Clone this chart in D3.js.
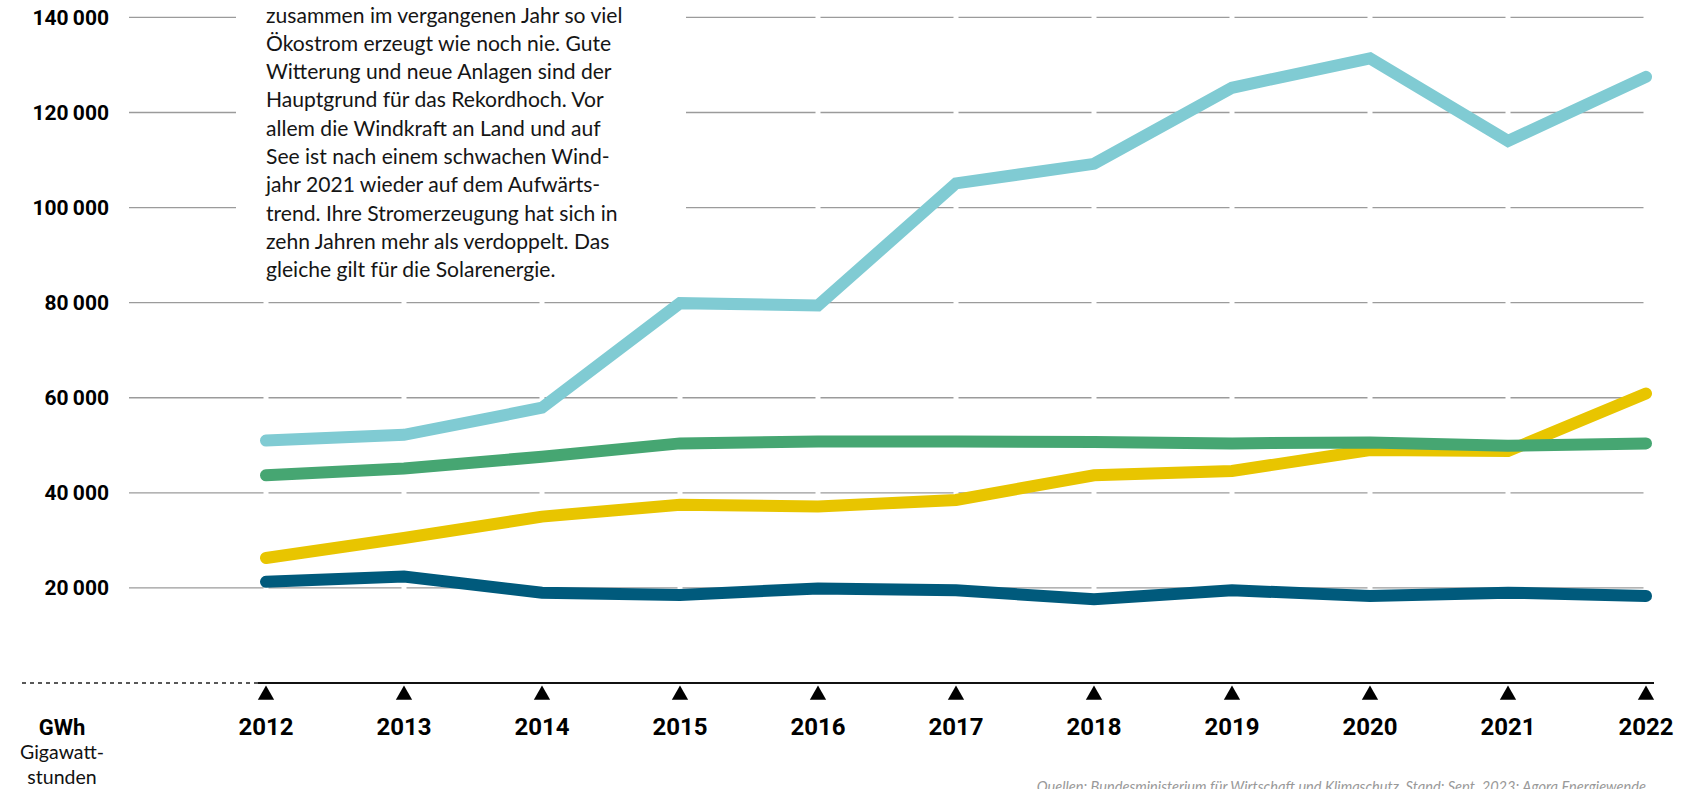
<!DOCTYPE html>
<html>
<head>
<meta charset="utf-8">
<script src="https://cdn.jsdelivr.net/npm/d3@7"></script>
<style>
  html, body { margin: 0; padding: 0; background: #fff; overflow: hidden; }
  svg { display: block; }
</style>
</head>
<body>
<div id="chart"></div>
<script>
var years = [2012, 2013, 2014, 2015, 2016, 2017, 2018, 2019, 2020, 2021, 2022];
var wind    = [51000, 52200, 57900, 79900, 79400, 105100, 109200, 125200, 131400, 114000, 127500];
var biomass = [43700, 45100, 47600, 50400, 50800, 50800, 50700, 50400, 50600, 49900, 50400];
var solar   = [26300, 30500, 35000, 37500, 37100, 38500, 43700, 44600, 49000, 48800, 60900];
var water   = [21300, 22400, 19000, 18500, 19900, 19500, 17600, 19500, 18300, 19000, 18300];
var yTicks = [20000, 40000, 60000, 80000, 100000, 120000, 140000];

var textLines = [
  "Wind, Sonne, Biomasse und Wasserkraft haben",
  "zusammen im vergangenen Jahr so viel",
  "Ökostrom erzeugt wie noch nie. Gute",
  "Witterung und neue Anlagen sind der",
  "Hauptgrund für das Rekordhoch. Vor",
  "allem die Windkraft an Land und auf",
  "See ist nach einem schwachen Wind-",
  "jahr 2021 wieder auf dem Aufwärts-",
  "trend. Ihre Stromerzeugung hat sich in",
  "zehn Jahren mehr als verdoppelt. Das",
  "gleiche gilt für die Solarenergie."
];
var source = "Quellen: Bundesministerium für Wirtschaft und Klimaschutz, Stand: Sept. 2023; Agora Energiewende";

var width = 1707, height = 789;

var svg = d3.select("#chart").append("svg")
  .attr("width", width)
  .attr("height", height);

var x = d3.scalePoint().domain(years).range([266, 1646]);
var y = d3.scaleLinear().domain([0, 140000]).range([683, 17.4]);

var fmt = d3.formatLocale({decimal: ",", thousands: "\u2009", grouping: [3], currency: ["", ""]}).format(",d");

// gridlines, broken at every year
var gGrid = svg.append("g");
yTicks.forEach(function(t) {
  var xs = [129].concat(years.map(function(d) { return x(d); }));
  for (var i = 0; i < xs.length - 1; i++) {
    gGrid.append("line")
      .attr("x1", i == 0 ? xs[i] : xs[i] + 2.5)
      .attr("x2", xs[i + 1] - 2.5)
      .attr("y1", y(t))
      .attr("y2", y(t))
      .attr("stroke", "#9b9b9b")
      .attr("stroke-width", 1.3);
  }
});

svg.append("g").selectAll("text")
  .data(yTicks)
  .join("text")
  .attr("x", 109)
  .attr("y", function(d) { return y(d); })
  .attr("dy", "0.36em")
  .attr("text-anchor", "end")
  .attr("font-family", "Roboto")
  .attr("font-weight", 700)
  .attr("font-size", 21)
  .attr("fill", "#000")
  .text(function(d) { return fmt(d); });

// text box over the grid
svg.append("rect")
  .attr("x", 236).attr("y", 0)
  .attr("width", 450).attr("height", 286)
  .attr("fill", "#fff");

var gText = svg.append("text")
  .attr("font-family", "Lato")
  .attr("font-size", 21.1)
  .attr("fill", "#151515");
textLines.forEach(function(s, i) {
  gText.append("tspan")
    .attr("x", 266)
    .attr("y", -5.8 + i * 28.3)
    .text(s);
});

// series
var series = [
  {name: "Solar", values: solar, color: "#e8c500"},
  {name: "Biomasse", values: biomass, color: "#46a672"},
  {name: "Wasser", values: water, color: "#005a7c"},
  {name: "Wind", values: wind, color: "#80cbd3"}
];

var line = d3.line()
  .x(function(d, i) { return x(years[i]); })
  .y(function(d) { return y(d); });

svg.append("g").selectAll("path")
  .data(series)
  .join("path")
  .attr("d", function(s) { return line(s.values); })
  .attr("fill", "none")
  .attr("stroke", function(s) { return s.color; })
  .attr("stroke-width", 12)
  .attr("stroke-linecap", "round")
  .attr("stroke-linejoin", "miter");

// axis baseline
svg.append("line")
  .attr("x1", 22).attr("x2", 258)
  .attr("y1", y(0)).attr("y2", y(0))
  .attr("stroke", "#222")
  .attr("stroke-width", 1.5)
  .attr("stroke-dasharray", "4,4");
svg.append("line")
  .attr("x1", 258).attr("x2", 1654)
  .attr("y1", y(0)).attr("y2", y(0))
  .attr("stroke", "#111")
  .attr("stroke-width", 1.8);

var tri = d3.symbol().type(d3.symbolTriangle).size(115);
svg.append("g").selectAll("path")
  .data(years)
  .join("path")
  .attr("d", tri)
  .attr("transform", function(d) { return "translate(" + x(d) + ",695)"; })
  .attr("fill", "#000");

svg.append("g").selectAll("text")
  .data(years)
  .join("text")
  .attr("x", function(d) { return x(d); })
  .attr("y", 735)
  .attr("text-anchor", "middle")
  .attr("font-family", "Roboto")
  .attr("font-weight", 700)
  .attr("font-size", 24)
  .attr("fill", "#000")
  .text(function(d) { return d; });

svg.append("text")
  .attr("x", 62).attr("y", 735)
  .attr("text-anchor", "middle")
  .attr("font-family", "Roboto")
  .attr("font-weight", 700)
  .attr("font-size", 22)
  .text("GWh");

var unit = svg.append("text")
  .attr("text-anchor", "middle")
  .attr("font-family", "Lato")
  .attr("font-size", 19.5)
  .attr("fill", "#111");
unit.append("tspan").attr("x", 62).attr("y", 759).text("Gigawatt-");
unit.append("tspan").attr("x", 62).attr("y", 784).text("stunden");

svg.append("text")
  .attr("x", 1646).attr("y", 792)
  .attr("text-anchor", "end")
  .attr("font-family", "Lato")
  .attr("font-style", "italic")
  .attr("font-size", 14.6)
  .attr("fill", "#999")
  .text(source);
</script>
</body>
</html>
